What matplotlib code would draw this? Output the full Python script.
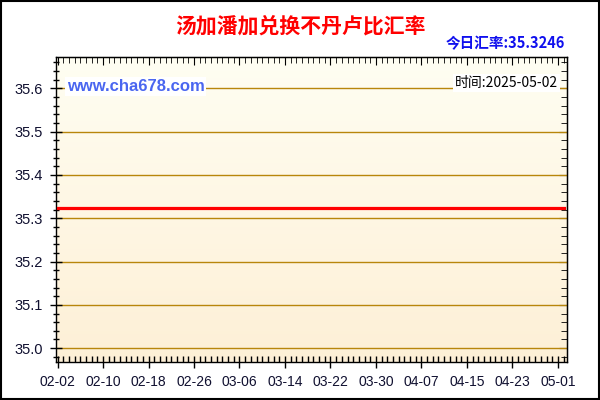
import numpy as np
import pandas as pd
import matplotlib
matplotlib.use("Agg")
import matplotlib.pyplot as plt
from matplotlib.ticker import MultipleLocator
from matplotlib.patches import Rectangle

plt.rcParams['font.family'] = ['Liberation Sans', 'Noto Sans CJK SC', 'DejaVu Sans']

title = '汤加潘加兑换不丹卢比汇率'
today_rate = '今日汇率:35.3246'
site = 'www.cha678.com'
stamp = '时间:2025-05-02'

dates = pd.date_range('2025-02-02', '2025-05-02', freq='D')
rates = [
    35.3246, 35.3246, 35.3246, 35.3246, 35.3246, 35.3246, 35.3246, 35.3246, 35.3246, 35.3246,
    35.3246, 35.3246, 35.3246, 35.3246, 35.3246, 35.3246, 35.3246, 35.3246, 35.3246, 35.3246,
    35.3246, 35.3246, 35.3246, 35.3246, 35.3246, 35.3246, 35.3246, 35.3246, 35.3246, 35.3246,
    35.3246, 35.3246, 35.3246, 35.3246, 35.3246, 35.3246, 35.3246, 35.3246, 35.3246, 35.3246,
    35.3246, 35.3246, 35.3246, 35.3246, 35.3246, 35.3246, 35.3246, 35.3246, 35.3246, 35.3246,
    35.3246, 35.3246, 35.3246, 35.3246, 35.3246, 35.3246, 35.3246, 35.3246, 35.3246, 35.3246,
    35.3246, 35.3246, 35.3246, 35.3246, 35.3246, 35.3246, 35.3246, 35.3246, 35.3246, 35.3246,
    35.3246, 35.3246, 35.3246, 35.3246, 35.3246, 35.3246, 35.3246, 35.3246, 35.3246, 35.3246,
    35.3246, 35.3246, 35.3246, 35.3246, 35.3246, 35.3246, 35.3246, 35.3246, 35.3246, 35.3246,
]
yticks = [35.0, 35.1, 35.2, 35.3, 35.4, 35.5, 35.6]

x = np.arange(len(dates))
xlabels = [d.strftime('%m-%d') for d in dates]

fig = plt.figure(figsize=(6, 4), dpi=100)
ax = fig.add_axes([0.094, 0.095, 0.851, 0.762])

# background gradient
grad = np.linspace(0, 1, 256).reshape(-1, 1)
top_c = np.array([1.0, 0.996, 0.95])
bot_c = np.array([0.995, 0.94, 0.84])
img = top_c * (1 - grad[..., None]) + bot_c * grad[..., None]
ax.imshow(img, extent=[0, 1, 0, 1], transform=ax.transAxes, aspect='auto', zorder=0)

for yv in yticks:
    ax.axhline(yv, color='#b8860b', lw=1, zorder=1)

ax.plot(x, rates, color='red', lw=2.3, zorder=3)

ax.set_xlim(-0.2, 89.6)
ax.set_ylim(34.968, 35.672)

ax.set_xticks(x[::8])
ax.set_xticklabels(xlabels[::8])
ax.xaxis.set_minor_locator(MultipleLocator(1))
ax.set_yticks(yticks)
ax.set_yticklabels([f'{v:.1f}' for v in yticks])
ax.yaxis.set_minor_locator(MultipleLocator(0.02))

ax.tick_params(axis='y', which='major', direction='inout', length=9, width=1, labelsize=10.5, pad=5, colors='black', labelcolor='#101030')
ax.tick_params(axis='y', which='minor', direction='inout', length=5, width=1)
ax.tick_params(axis='x', which='major', direction='inout', length=8, width=1, labelsize=10, pad=5, labelcolor='#101030')
ax.tick_params(axis='x', which='minor', direction='in', length=4, width=1)

sx = ax.secondary_xaxis('top')
sx.set_xticks(x[::8])
sx.xaxis.set_minor_locator(MultipleLocator(1))
sx.tick_params(which='major', direction='in', length=6, labeltop=False)
sx.tick_params(which='minor', direction='in', length=4)
sy = ax.secondary_yaxis('right')
sy.set_yticks(yticks)
sy.yaxis.set_minor_locator(MultipleLocator(0.02))
sy.tick_params(which='major', direction='in', length=6, labelright=False)
sy.tick_params(which='minor', direction='in', length=4)

for s in ax.spines.values():
    s.set_color('black')
    s.set_linewidth(1)

ax.text(0.02, 0.905, site, transform=ax.transAxes, color='#4a66f0', fontsize=12, fontweight='bold',
        va='center', ha='left', zorder=5,
        bbox=dict(facecolor='white', edgecolor='none', pad=1.5))
ax.text(0.983, 0.915, stamp, transform=ax.transAxes, color='black', fontsize=10,
        family=['Noto Sans CJK SC', 'DejaVu Sans'],
        va='center', ha='right', zorder=5,
        bbox=dict(facecolor='white', edgecolor='none', pad=1.5))

fig.text(0.5, 0.935, title, color='red', fontsize=15, fontweight='bold', ha='center', va='center',
         family=['Noto Sans CJK SC', 'DejaVu Sans'])
fig.text(0.942, 0.893, today_rate, color='#1010ee', fontsize=10.5, fontweight='bold', ha='right', va='center',
         family=['Noto Sans CJK SC', 'DejaVu Sans'])

fig.patches.append(Rectangle((0.001, 0.002), 0.997, 0.996, transform=fig.transFigure,
                             fill=False, edgecolor='black', lw=1.5))

fig.savefig('out.png', dpi=100)
